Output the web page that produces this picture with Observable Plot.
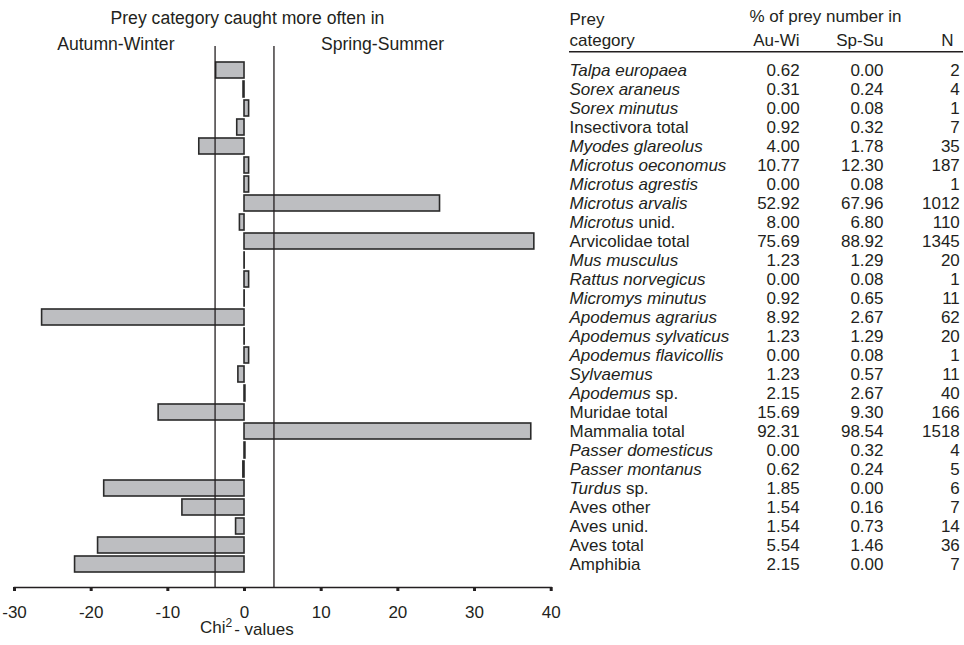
<!DOCTYPE html>
<html><head><meta charset="utf-8">
<script src="https://cdn.jsdelivr.net/npm/d3@7"></script>
<script src="https://cdn.jsdelivr.net/npm/@observablehq/plot@0.6"></script>
<style>
html,body{margin:0;padding:0;background:#fff;}
#chart svg{display:block;overflow:visible}
</style></head><body><div id="chart"></div>
<script>
// ---- data ----
const categories = [
  "Talpa europaea","Sorex araneus","Sorex minutus","Insectivora total","Myodes glareolus",
  "Microtus oeconomus","Microtus agrestis","Microtus arvalis","Microtus unid.","Arvicolidae total",
  "Mus musculus","Rattus norvegicus","Micromys minutus","Apodemus agrarius","Apodemus sylvaticus",
  "Apodemus flavicollis","Sylvaemus","Apodemus sp.","Muridae total","Mammalia total",
  "Passer domesticus","Passer montanus","Turdus sp.","Aves other","Aves unid.","Aves total","Amphibia"
];
const italicParts = [
  "Talpa europaea","Sorex araneus","Sorex minutus","","Myodes glareolus",
  "Microtus oeconomus","Microtus agrestis","Microtus arvalis","Microtus","",
  "Mus musculus","Rattus norvegicus","Micromys minutus","Apodemus agrarius","Apodemus sylvaticus",
  "Apodemus flavicollis","Sylvaemus","Apodemus","","",
  "Passer domesticus","Passer montanus","Turdus","","","",""
];
const auWi = [0.62,0.31,0.00,0.92,4.00,10.77,0.00,52.92,8.00,75.69,1.23,0.00,0.92,8.92,1.23,0.00,1.23,2.15,15.69,92.31,0.00,0.62,1.85,1.54,1.54,5.54,2.15];
const spSu = [0.00,0.24,0.08,0.32,1.78,12.30,0.08,67.96,6.80,88.92,1.29,0.08,0.65,2.67,1.29,0.08,0.57,2.67,9.30,98.54,0.32,0.24,0.00,0.16,0.73,1.46,0.00];
const nTotal = [2,4,1,7,35,187,1,1012,110,1345,20,1,11,62,20,1,11,40,166,1518,4,5,6,7,14,36,7];
const chiValues = [-3.7,-0.13,0.6,-0.95,-5.9,0.6,0.6,25.5,-0.6,37.8,0.02,0.6,0.02,-26.4,0.02,0.6,-0.8,0.12,-11.2,37.4,0.12,-0.15,-18.3,-8.1,-1.1,-19.1,-22.1];
const xTicks = [-30,-20,-10,0,10,20,30,40];
const critical = [-3.84, 3.84];
const headerTop = ["Prey", "% of prey number in"];
const headerBottom = ["category", "Au-Wi", "Sp-Su", "N"];
const xLabelParts = ["Chi", "2", "- values"];

const rows = categories.map((name, i) => ({name, auWi: auWi[i], spSu: spSu[i], n: nTotal[i], chi: chiValues[i]}));

// ---- layout ----
const W = 964, H = 645, mL = 14, mR = 413.3, mT = 46, mB = 58;
const font = "'Liberation Sans', Arial, Helvetica, sans-serif";
const ink = "#231f20";
const fmt = d3.format(".2f");
const tfs = 17;

const chart = Plot.plot({
  width: W, height: H,
  marginLeft: mL, marginRight: mR, marginTop: mT, marginBottom: mB,
  style: {fontFamily: font, fontSize: tfs + "px", color: ink, background: "#fff", overflow: "visible"},
  x: {domain: [-30, 40], ticks: xTicks, label: null},
  y: {type: "band", domain: categories, paddingInner: 0.166, paddingOuter: 0.68, axis: null},
  marks: [
    Plot.barX(rows, {y: "name", x1: 0, x2: "chi", fill: "#bdbec1", stroke: "#2a2a2a", strokeWidth: 1.6}),
    Plot.ruleX(critical, {stroke: ink, strokeWidth: 1.3}),
    Plot.frame({anchor: "bottom", stroke: ink, strokeWidth: 1.5}),
    Plot.axisX({ticks: xTicks, tickFormat: d => String(d), tickSize: 4, strokeWidth: 3, tickPadding: 14, fontSize: 17, label: null, stroke: ink, fill: ink}),
    Plot.text([xLabelParts.join("")], {text: d => d, frameAnchor: "bottom", lineAnchor: "bottom", dx: -36, dy: 45, fontSize: 17, fill: ink}),
    // left titles
    Plot.text(["Prey category caught more often in"], {text: d => d, frameAnchor: "top", lineAnchor: "bottom", dx: -35.4, dy: -23, fontSize: 17.6, fill: ink}),
    Plot.text(["Autumn-Winter"], {text: d => d, frameAnchor: "top", lineAnchor: "bottom", dx: -167, dy: 3, fontSize: 17.6, fill: ink}),
    Plot.text(["Spring-Summer"], {text: d => d, frameAnchor: "top", lineAnchor: "bottom", dx: 99.7, dy: 3, fontSize: 17.6, fill: ink}),
    // table header
    Plot.text([headerTop[0]], {text: d => d, frameAnchor: "top-right", textAnchor: "start", lineAnchor: "bottom", dx: 18.3, dy: -22, fill: ink}),
    Plot.text([headerTop[1]], {text: d => d, frameAnchor: "top-right", textAnchor: "middle", lineAnchor: "bottom", dx: 274.3, dy: -24.3, fill: ink}),
    Plot.text([headerBottom[0]], {text: d => d, frameAnchor: "top-right", textAnchor: "start", lineAnchor: "bottom", dx: 18.3, dy: -1, fill: ink}),
    Plot.text([headerBottom[1]], {text: d => d, frameAnchor: "top-right", textAnchor: "end", lineAnchor: "bottom", dx: 248.3, dy: -1, fill: ink}),
    Plot.text([headerBottom[2]], {text: d => d, frameAnchor: "top-right", textAnchor: "end", lineAnchor: "bottom", dx: 332.3, dy: -1, fill: ink}),
    Plot.text([headerBottom[3]], {text: d => d, frameAnchor: "top-right", textAnchor: "end", lineAnchor: "bottom", dx: 402.3, dy: -1, fill: ink}),
    // table rows
    Plot.text(rows, {y: "name", text: "name", frameAnchor: "right", textAnchor: "start", lineAnchor: "middle", dx: 18.3, fill: ink}),
    Plot.text(rows, {y: "name", text: d => fmt(d.auWi), frameAnchor: "right", textAnchor: "end", lineAnchor: "middle", dx: 248.5, fill: ink}),
    Plot.text(rows, {y: "name", text: d => fmt(d.spSu), frameAnchor: "right", textAnchor: "end", lineAnchor: "middle", dx: 332.3, fill: ink}),
    Plot.text(rows, {y: "name", text: d => String(d.n), frameAnchor: "right", textAnchor: "end", lineAnchor: "middle", dx: 408.6, fill: ink})
  ]
});

const svg = d3.select(chart);

// header rule of the table
svg.append("line")
  .attr("x1", W - mR + 18.3).attr("x2", W - 1)
  .attr("y1", 51.7).attr("y2", 51.7)
  .attr("stroke", ink).attr("stroke-width", 1.5);

// italic parts of the taxon names, superscript in the axis label
svg.selectAll("text").each(function () {
  const t = d3.select(this);
  const full = this.textContent;
  if (full === xLabelParts.join("")) {
    t.text("");
    t.append("tspan").text(xLabelParts[0]);
    t.append("tspan").attr("font-size", 12).attr("dy", "-0.45em").text(xLabelParts[1]);
    t.append("tspan").attr("dy", "0.45em").attr("dx", 2).text(xLabelParts[2]);
    return;
  }
  const i = categories.indexOf(full);
  if (i < 0) return;
  const it = italicParts[i];
  if (!it) return;
  t.text("");
  t.append("tspan").attr("font-style", "italic").text(it);
  const rest = full.slice(it.length);
  if (rest) t.append("tspan").text(rest);
});

document.getElementById("chart").appendChild(chart);
</script>
</body></html>
